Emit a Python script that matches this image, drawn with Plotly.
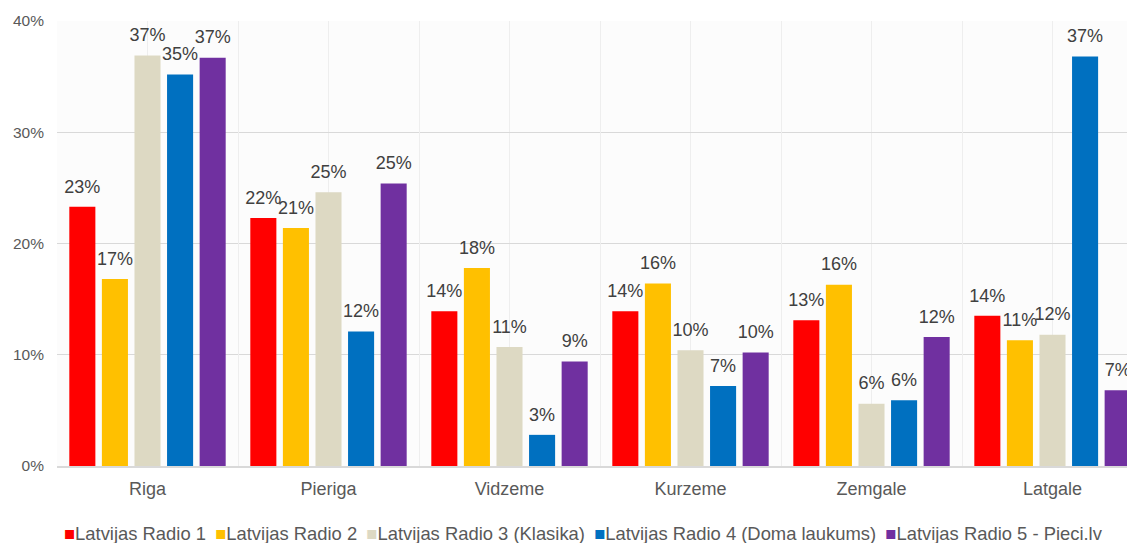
import plotly.graph_objects as go

categories = ["Riga", "Pieriga", "Vidzeme", "Kurzeme", "Zemgale", "Latgale"]
series_names = [
    "Latvijas Radio 1",
    "Latvijas Radio 2",
    "Latvijas Radio 3 (Klasika)",
    "Latvijas Radio 4 (Doma laukums)",
    "Latvijas Radio 5 - Pieci.lv",
]
radio1 = [23.3, 22.3, 13.9, 13.9, 13.1, 13.5]
radio2 = [16.8, 21.4, 17.8, 16.4, 16.3, 11.3]
radio3 = [36.9, 24.6, 10.7, 10.4, 5.6, 11.8]
radio4 = [35.2, 12.1, 2.8, 7.2, 5.9, 36.8]
radio5 = [36.7, 25.4, 9.4, 10.2, 11.6, 6.8]
series_values = [radio1, radio2, radio3, radio4, radio5]
colors = ["#FF0000", "#FFC000", "#DDD9C3", "#0070C0", "#7030A0"]
y_ticks = [0, 10, 20, 30, 40]
y_tick_labels = ["0%", "10%", "20%", "30%", "40%"]

FONT = "Liberation Sans, Arial, sans-serif"
GAP = 0.10

fig = go.Figure()
for name, vals, col in zip(series_names, series_values, colors):
    fig.add_trace(go.Bar(
        name=name, x=categories, y=vals,
        marker=dict(color=col, line=dict(width=0)),
        showlegend=False, hoverinfo="x+y+name",
    ))

# value labels: grouped scatter text on the overlaid category axis
for i, (name, vals) in enumerate(zip(series_names, series_values)):
    fig.add_trace(go.Scatter(
        name=name, x=categories, y=vals, xaxis="x2", yaxis="y",
        mode="markers+text", orientation="v",
        offsetgroup=f"lbl{i}", alignmentgroup="labels",
        marker=dict(size=14, opacity=0, color="rgba(0,0,0,0)"),
        text=[f"{v:.0f}%" for v in vals], textposition="top center",
        textfont=dict(family=FONT, size=18, color="#404040"),
        cliponaxis=False, showlegend=False, hoverinfo="skip",
    ))

# legend drawn as one line of text built from the series names/colours
legend_text = "&#8194;".join(
    f'<span style="color:{c}">■</span>{n}'
    for n, c in zip(series_names, colors)
)
fig.add_annotation(
    text=legend_text, xref="paper", yref="paper", x=0.485, y=-0.1506,
    xanchor="center", yanchor="middle", showarrow=False,
    font=dict(family=FONT, size=18.4, color="#595959"),
)

fig.update_layout(
    width=1135, height=543,
    margin=dict(l=49, r=0, t=13, b=85, autoexpand=False),
    paper_bgcolor="white", plot_bgcolor="#FCFCFC",
    barmode="group", bargap=GAP, bargroupgap=0.2,
    scattermode="group", scattergap=GAP,
    font=dict(family=FONT, color="#595959"),
    showlegend=False,
    xaxis=dict(
        type="category", range=[-0.5, 5.5], automargin=False,
        showgrid=True, gridcolor="#EEEEEE", gridwidth=1,
        showline=True, linecolor="#D9D9D9", linewidth=2,
        tickfont=dict(size=18, color="#595959"),
        ticks="", zeroline=False, ticklabelstandoff=5,
    ),
    xaxis2=dict(
        type="category", overlaying="x", range=[-0.5, 5.5], automargin=False,
        categoryorder="array", categoryarray=categories,
        tickson="boundaries", showgrid=True, gridcolor="#EEEEEE", gridwidth=1,
        showticklabels=False, ticks="", showline=False, zeroline=False,
        layer="below traces",
    ),
    yaxis=dict(
        range=[0, 40], tickvals=y_ticks, ticktext=y_tick_labels, automargin=False,
        showgrid=True, gridcolor="#D9D9D9", gridwidth=1,
        zeroline=False, showline=False,
        tickfont=dict(size=15.5, color="#595959"),
        ticklabelstandoff=12,
    ),
)

fig.write_html("out.html")
